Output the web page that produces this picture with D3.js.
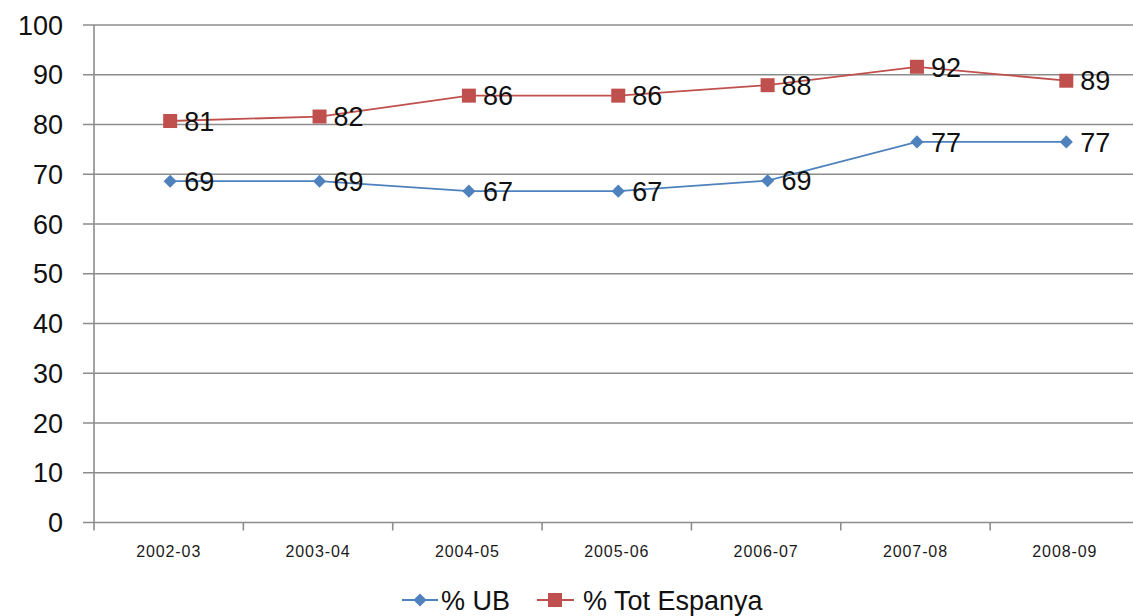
<!DOCTYPE html>
<html><head><meta charset="utf-8">
<script src="https://cdn.jsdelivr.net/npm/d3@7"></script>
<style>body{margin:0;background:#fff}svg{display:block}text{font-family:"Liberation Sans",Arial,sans-serif}</style>
</head><body>
<script>
const categories = ["2002-03","2003-04","2004-05","2005-06","2006-07","2007-08","2008-09"];
const ubValues = [68.6, 68.6, 66.6, 66.6, 68.7, 76.5, 76.5];
const espValues = [80.7, 81.6, 85.8, 85.8, 87.9, 91.6, 88.8];
const yTicks = [0,10,20,30,40,50,60,70,80,90,100];
const seriesNames = ["% UB", "% Tot Espanya"];

const W = 1133, H = 616;
const svg = d3.select("body").append("svg").attr("width", W).attr("height", H);
const x = d3.scaleBand().domain(categories).range([94, 1139.5]).padding(0);
const y = d3.scaleLinear().domain([0,100]).range([522.5, 25]);
const grid = "#8c8c8c";

svg.append("g").selectAll("line").data(yTicks).join("line")
  .attr("x1", 83).attr("x2", W).attr("y1", d => y(d)).attr("y2", d => y(d))
  .attr("stroke", grid).attr("stroke-width", 1.6);

svg.append("line").attr("x1", 94).attr("x2", 94).attr("y1", y(100)).attr("y2", y(0))
  .attr("stroke", grid).attr("stroke-width", 1.6);

svg.append("g").selectAll("text").data(yTicks).join("text")
  .attr("x", 63).attr("y", d => y(d)).attr("dy", "0.36em").attr("text-anchor", "end")
  .attr("font-size", 27).attr("fill", "#111").text(d => d);

const bounds = categories.map(c => x(c)).concat([x(categories[categories.length-1]) + x.bandwidth()]);
svg.append("g").selectAll("line").data(bounds).join("line")
  .attr("x1", d => d).attr("x2", d => d).attr("y1", y(0)).attr("y2", y(0) + 8)
  .attr("stroke", grid).attr("stroke-width", 1.6);

svg.append("g").selectAll("text").data(categories).join("text")
  .attr("x", d => x(d) + x.bandwidth()/2).attr("y", 551).attr("dy", "0.36em")
  .attr("text-anchor", "middle").attr("font-size", 16).attr("letter-spacing", "0.9px")
  .attr("fill", "#1a1a1a").text(d => d);

const cx = d => x(d) + x.bandwidth()/2 + 1.5;
const line = d3.line().x(d => cx(d.c)).y(d => y(d.v));
const ubData = categories.map((c,i) => ({c, v: ubValues[i]}));
const espData = categories.map((c,i) => ({c, v: espValues[i]}));
const blue = "#4F81BD", red = "#C0504D";
const diamond = d3.symbol().type(d3.symbolDiamond2).size(110);

svg.append("path").datum(ubData).attr("d", line).attr("fill","none").attr("stroke", blue).attr("stroke-width", 1.8);
svg.append("path").datum(espData).attr("d", line).attr("fill","none").attr("stroke", red).attr("stroke-width", 1.8);

svg.append("g").selectAll("path").data(ubData).join("path")
  .attr("d", diamond).attr("transform", d => `translate(${cx(d.c)},${y(d.v)})`).attr("fill", blue);
svg.append("g").selectAll("rect").data(espData).join("rect")
  .attr("x", d => cx(d.c) - 7).attr("y", d => y(d.v) - 7).attr("width", 14).attr("height", 14).attr("fill", red);

const fmt = d3.format(".0f");
[ubData, espData].forEach(data => {
  svg.append("g").selectAll("text").data(data).join("text")
    .attr("x", d => cx(d.c) + 14).attr("y", d => y(d.v)).attr("dy", "0.36em")
    .attr("font-size", 27).attr("fill", "#111").text(d => fmt(d.v));
});

const lg = svg.append("g");
lg.append("line").attr("x1", 402).attr("x2", 438).attr("y1", 600).attr("y2", 600).attr("stroke", blue).attr("stroke-width", 1.8);
lg.append("path").attr("d", diamond).attr("transform", "translate(420,600)").attr("fill", blue);
lg.append("text").attr("x", 441).attr("y", 600).attr("dy", "0.36em").attr("font-size", 27).attr("fill", "#111").text(seriesNames[0]);
lg.append("line").attr("x1", 537).attr("x2", 574).attr("y1", 600).attr("y2", 600).attr("stroke", red).attr("stroke-width", 1.8);
lg.append("rect").attr("x", 548).attr("y", 593).attr("width", 14).attr("height", 14).attr("fill", red);
lg.append("text").attr("x", 583).attr("y", 600).attr("dy", "0.36em").attr("font-size", 27).attr("fill", "#111").text(seriesNames[1]);
</script>
</body></html>
